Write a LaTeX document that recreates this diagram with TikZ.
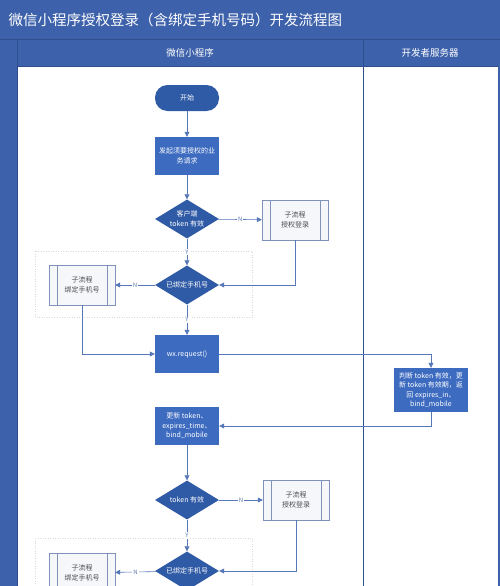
\documentclass[tikz,border=0pt]{standalone}
\usepackage{fontspec}
\setmainfont{Noto Sans CJK SC}
\usetikzlibrary{shapes.geometric,arrows.meta}
\definecolor{lanebg}{HTML}{3D61AA}
\definecolor{laneline}{HTML}{2E4E8E}
\definecolor{boxblue}{HTML}{3D6BC0}
\definecolor{diablue}{HTML}{2F5AA5}
\definecolor{flowline}{HTML}{5677B8}
\definecolor{subfill}{HTML}{F6F7FB}
\definecolor{subline}{HTML}{7F93BA}
\definecolor{tagc}{HTML}{5F7AB3}
\tikzset{
  nodefont/.style={font=\fontsize{7}{9.5}\selectfont},
  terminal/.style={nodefont, fill=diablue, text=white, rounded corners=12.5pt, minimum width=64pt, minimum height=26pt, inner sep=1pt},
  procbox/.style={nodefont, fill=boxblue, text=white, minimum width=64pt, minimum height=38pt, align=center, inner sep=1pt},
  decision/.style={nodefont, diamond, fill=diablue, text=white, aspect=1.64, minimum width=64pt, minimum height=39pt, align=center, inner sep=0pt},
  subproc/.style={nodefont, draw=subline, fill=subfill, text=black!70, minimum width=66pt, minimum height=40pt, align=center, inner sep=1pt,
    path picture={\draw[subline] ([xshift=8pt]path picture bounding box.north west) -- ([xshift=8pt]path picture bounding box.south west);
      \draw[subline] ([xshift=-8pt]path picture bounding box.north east) -- ([xshift=-8pt]path picture bounding box.south east);}},
  flow/.style={draw=flowline, line width=0.6pt, -{Triangle[length=5pt,width=5pt]}},
  branchtag/.style={fill=white, text=tagc, font=\fontsize{6}{7}\selectfont, inner sep=1pt},
  groupbox/.style={draw=black!15, dotted, line width=0.5pt}
}
\begin{document}
\begin{tikzpicture}[x=1pt, y=-1pt]
    \useasboundingbox (0,0) rectangle (500,586);
    \clip (0,0) rectangle (500,586);

    % lanes
    \fill[lanebg] (0,0) rectangle (500,586);
    \fill[white] (17,66) rectangle (498,586);
    \draw[laneline, line width=0.4pt] (0,39) -- (500,39);
    \draw[laneline, line width=0.4pt] (17,39) -- (17,586);
    \draw[laneline, line width=0.6pt] (363,39) -- (363,586);
    \draw[laneline, line width=0.4pt] (17,66) -- (498,66);
    \node[text=white, font=\fontsize{14.5}{16}\selectfont, anchor=west] (title) at (5,20) {微信小程序授权登录（含绑定手机号码）开发流程图};
    \node[text=white, font=\fontsize{9.5}{11}\selectfont] (lanea) at (190,53) {微信小程序};
    \node[text=white, font=\fontsize{9.5}{11}\selectfont] (laneb) at (430,53) {开发者服务器};

    \draw[groupbox] (35,251) rectangle (252,317);
    \draw[groupbox] (35,538) rectangle (252,600);

    % nodes
    \node[terminal] (start) at (187,98) {开始};
    \node[procbox] (ask) at (187,156) {发起须要授权的业\\务请求};
    \node[decision] (check1) at (187,219) {客户端\\token 有效};
    \node[subproc] (login1) at (295,220) {子流程\\授权登录};
    \node[decision] (bound1) at (187,285) {已绑定手机号};
    \node[subproc] (phone1) at (82,285) {子流程\\绑定手机号};
    \node[procbox] (wxreq) at (187,354) {wx.request()};
    \node[procbox, minimum width=74pt, minimum height=44pt] (server) at (431,390) {判断 token 有效，更\\新 token 有效期，返\\回 expires\_in、\\bind\_mobile};
    \node[procbox] (renew) at (187,426) {更新 token、\\expires\_time、\\bind\_mobile};
    \node[decision] (check2) at (187,500) {token 有效};
    \node[subproc] (login2) at (296,500) {子流程\\授权登录};
    \node[decision] (bound2) at (187,571) {已绑定手机号};
    \node[subproc] (phone2) at (82,573) {子流程\\绑定手机号};

    % connectors
    \draw[flow] (start) -- (ask);
    \draw[flow] (ask) -- (check1);
    \draw[flow] (check1) -- node[branchtag] {N} (login1);
    \draw[flow] (check1) -- node[branchtag] {Y} (bound1);
    \draw[flow] (login1) |- (bound1);
    \draw[flow] (bound1) -- node[branchtag] {N} (phone1);
    \draw[flow] (bound1) -- node[branchtag] {Y} (wxreq);
    \draw[flow] (phone1) |- (wxreq);
    \draw[flow] (wxreq) -| (server);
    \draw[flow] (server) |- (renew);
    \draw[flow] (renew) -- (check2);
    \draw[flow] (check2) -- node[branchtag] {N} (login2);
    \draw[flow] (check2) -- node[branchtag] {Y} (bound2);
    \draw[flow] (login2) |- (bound2);
    \draw[flow] (bound2) -- node[branchtag] {N} (phone2);
\end{tikzpicture}
\end{document}
